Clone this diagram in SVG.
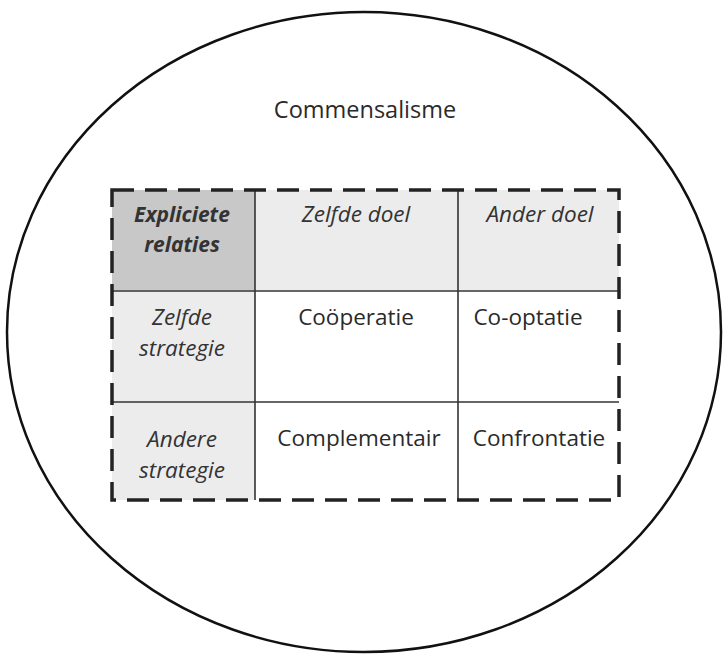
<svg xmlns="http://www.w3.org/2000/svg" width="726" height="655" viewBox="0 0 726 655">
<style>
.t{font-family:"Open Sans","Liberation Sans",Arial,sans-serif;font-size:22.5px;fill:#2a2a2a;text-anchor:middle}
.i{font-style:italic;fill:#333}
.b{font-weight:bold}
.grid{stroke:#333;stroke-width:1.6;fill:none}
.hdr{fill:#ececec}
</style>
<rect width="726" height="655" fill="#fff"/>
<g id="commensalisme">
<ellipse cx="364" cy="332" rx="357" ry="320" fill="none" stroke="#111" stroke-width="2.5"/>
<text class="t" x="365" y="118" style="font-size:23.5px">Commensalisme</text>
</g>
<g id="table">
<rect class="hdr" x="112" y="190" width="507" height="100"/>
<rect class="hdr" x="112" y="190" width="143" height="310"/>
<rect x="112" y="190" width="143" height="100" fill="#c8c8c8"/>
</g>
<g id="connectors">
<line class="grid" x1="255" y1="190" x2="255" y2="500"/>
<line class="grid" x1="458" y1="190" x2="458" y2="500"/>
<line class="grid" x1="112" y1="291" x2="619" y2="291"/>
<line class="grid" x1="112" y1="402" x2="619" y2="402"/>
<rect x="112" y="190" width="507" height="310" fill="none" stroke="#222" stroke-width="3.5" stroke-dasharray="22 11"/>
</g>
<g id="cell-expliciete"><text class="t i b" x="182" y="222" style="font-size:21px">Expliciete</text><text class="t i b" x="182" y="252" style="font-size:21px">relaties</text></g>
<g id="cell-zelfde-doel"><text class="t i" x="356" y="222">Zelfde doel</text></g>
<g id="cell-ander-doel"><text class="t i" x="540" y="222">Ander doel</text></g>
<g id="cell-zelfde-strategie"><text class="t i" x="182" y="325">Zelfde</text><text class="t i" x="182" y="356">strategie</text></g>
<g id="cell-andere-strategie"><text class="t i" x="182" y="447">Andere</text><text class="t i" x="182" y="478">strategie</text></g>
<g id="cell-cooperatie"><text class="t" x="356" y="325">Coöperatie</text></g>
<g id="cell-cooptatie"><text class="t" x="528" y="325">Co-optatie</text></g>
<g id="cell-complementair"><text class="t" x="359" y="446">Complementair</text></g>
<g id="cell-confrontatie"><text class="t" x="539" y="446">Confrontatie</text></g>
</svg>
